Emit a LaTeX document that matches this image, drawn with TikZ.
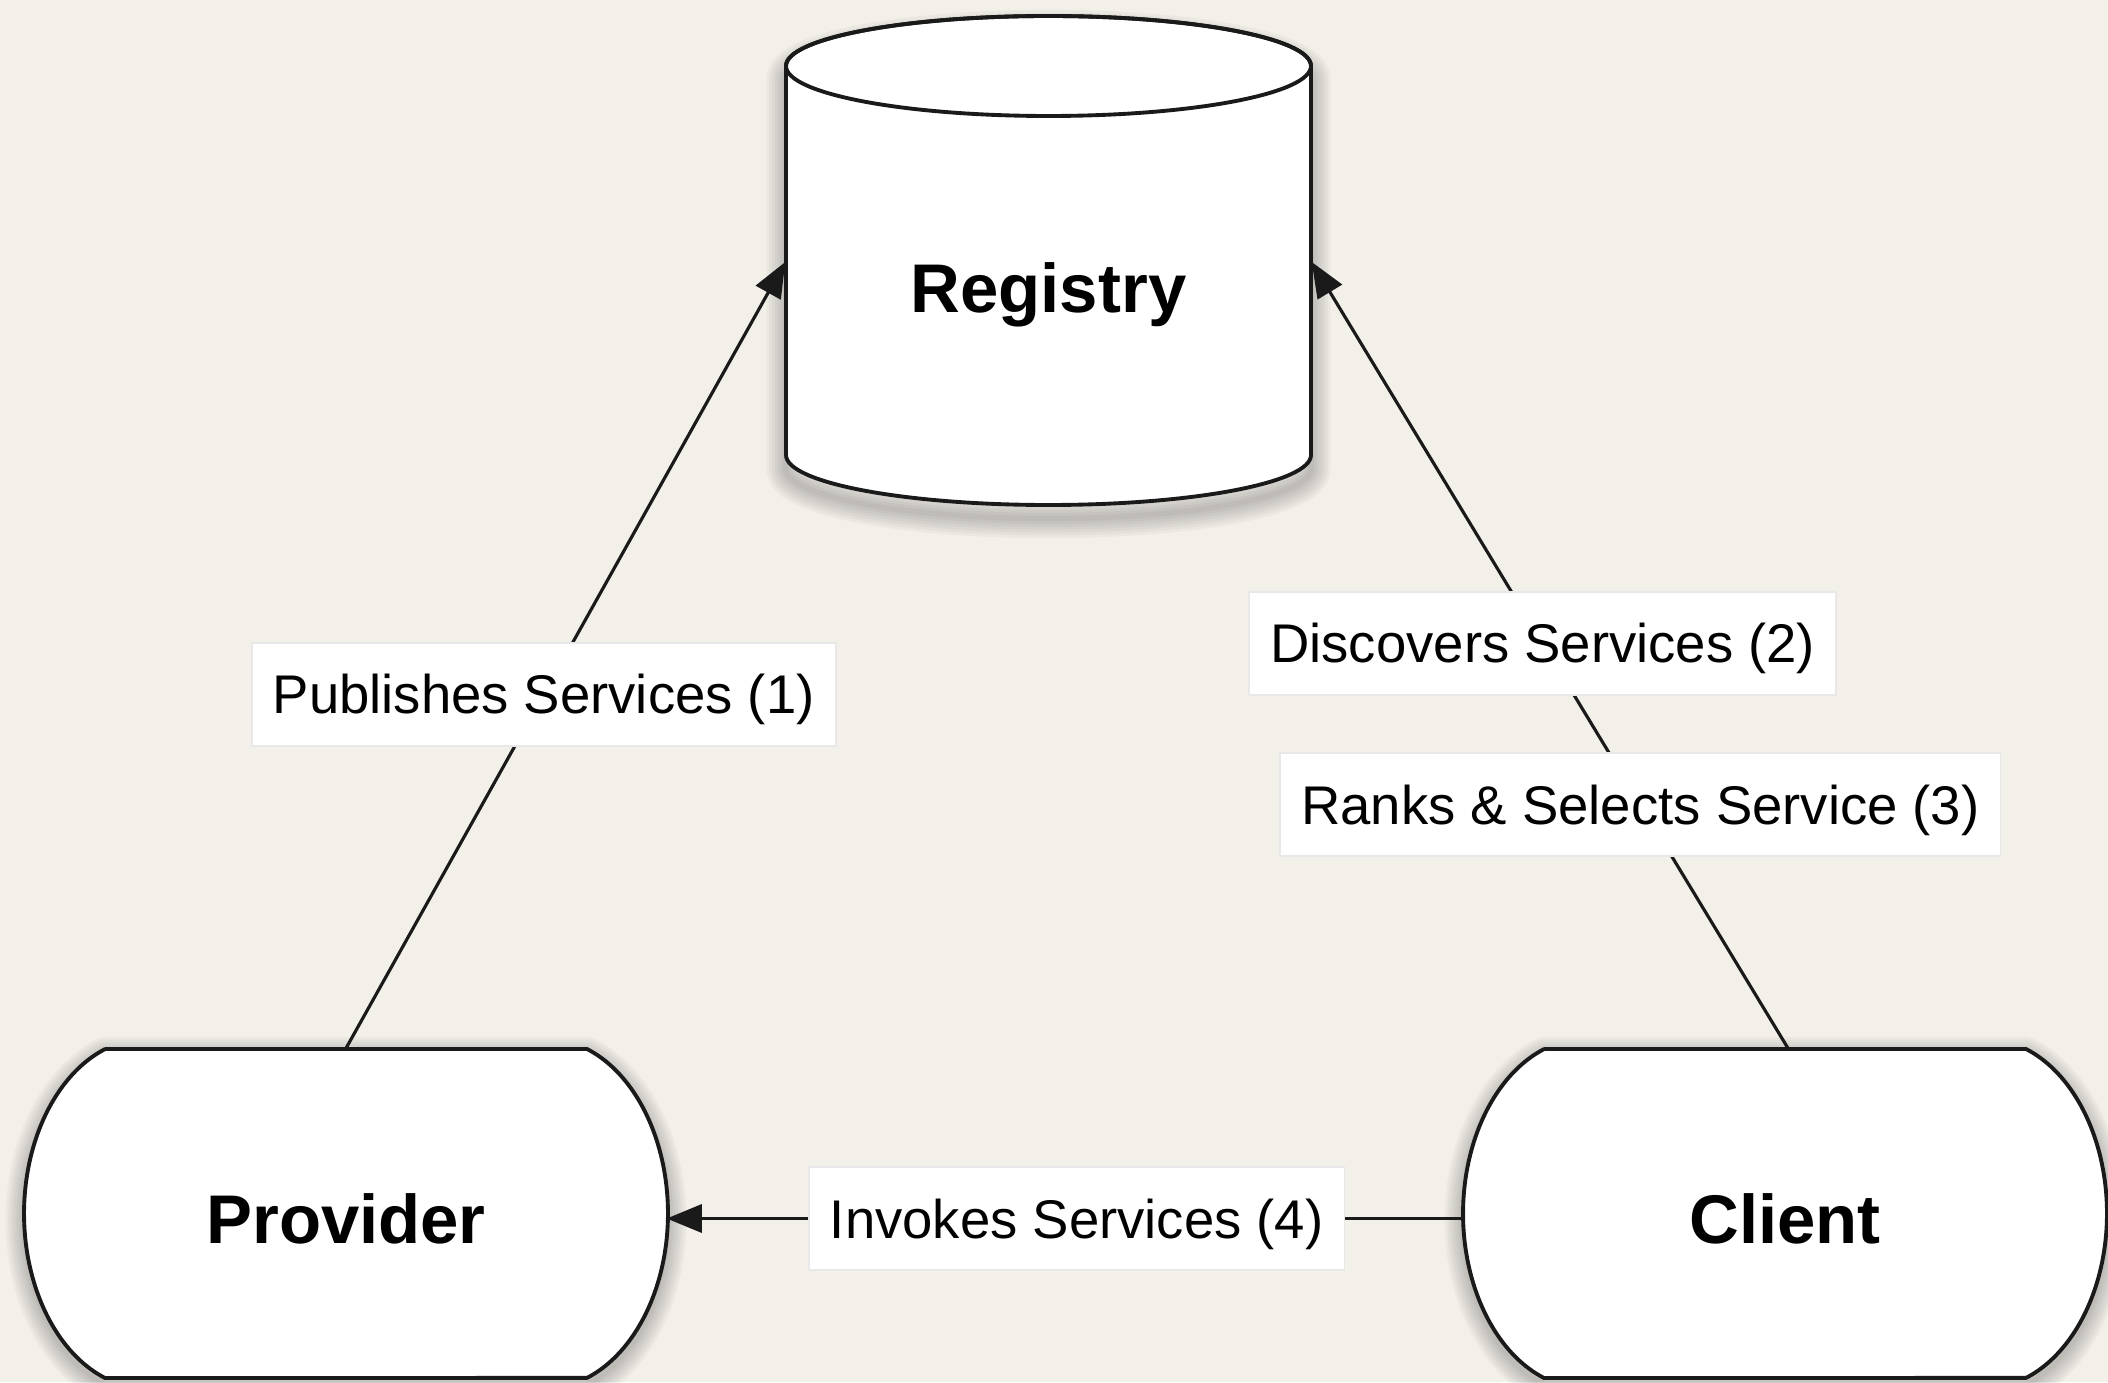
\documentclass[tikz,border=0pt]{standalone}
\usepackage{fontspec}
\setmainfont{Liberation Sans}
\usetikzlibrary{arrows.meta,calc}
\definecolor{bgcol}{HTML}{F3F0EA}
\definecolor{ink}{HTML}{1A1A1A}
\newcommand\myTermPath{(-2.41,1.645) -- (2.41,1.645) arc[start angle=70,end angle=-70,x radius=1.23,y radius=1.75] -- (-2.41,-1.645) arc[start angle=250,end angle=110,x radius=1.23,y radius=1.75] -- cycle}
\newcommand\myCylBody{(-2.625,1.945) -- (-2.625,-1.945) arc[start angle=180,end angle=360,x radius=2.625,y radius=0.5] -- (2.625,1.945) arc[start angle=0,end angle=180,x radius=2.625,y radius=0.5] -- cycle}
\tikzset{
  outline/.style={draw=ink, line width=1.1pt, fill=white, line join=round},
  shadowstroke/.style={draw=black, line width=#1, opacity=0.03, line join=round},
  hid/.style={inner sep=0pt, draw=none},
  bigtext/.style={font=\bfseries\fontsize{19.6}{22}\selectfont, text height=14pt, text depth=0pt},
  conn/.style={draw=ink, line width=0.9pt, -{Triangle[length=10pt,width=8pt]}},
  lab/.style={fill=white, draw=black!9, line width=0.5pt, font=\fontsize{15.5}{18}\selectfont,
    text height=11.1pt, text depth=0pt, inner xsep=0.21cm, minimum height=1.03cm}
}
\begin{document}
\begin{tikzpicture}
\fill[bgcol] (0,0) rectangle (21.08,13.82);
\useasboundingbox (0,0) rectangle (21.08,13.82);

% shadows
\foreach \cx in {3.46,17.85}{
  \begin{scope}[shift={(\cx,1.62)}]
    \foreach \w in {1,...,7}{\path[shadowstroke=\w*1.5pt] \myTermPath;}
  \end{scope}
}
\begin{scope}[shift={(10.485,11.08)}]
  \foreach \w in {1,...,7}{\path[shadowstroke=\w*1.6pt] \myCylBody;}
\end{scope}

% shapes
\begin{scope}[shift={(3.46,1.685)}]
  \path[outline] \myTermPath;
\end{scope}
\begin{scope}[shift={(17.85,1.685)}]
  \path[outline] \myTermPath;
\end{scope}
\begin{scope}[shift={(10.485,11.215)}]
  \path[outline] \myCylBody;
  \draw[draw=ink, line width=1.1pt] (0,1.945) ellipse[x radius=2.625, y radius=0.5];
\end{scope}

% nodes
\node[hid, bigtext, minimum width=6.44cm, minimum height=3.39cm] (prov) at (3.46,1.635) {Provider};
\node[hid, bigtext, minimum width=6.44cm, minimum height=3.39cm] (cli) at (17.85,1.635) {Client};
\node[hid, bigtext, minimum width=5.25cm, minimum height=1cm] (reg) at (10.485,10.94) {Registry};

% connectors
\draw[conn] (prov.north) -- node[lab, pos=0.45] {Publishes Services (1)} ($(reg.west)+(0,0.26)$);
\draw[conn] ([xshift=0.03cm]cli.north) -- node[lab, pos=0.31] {Ranks \& Selects Service (3)}
  node[lab, pos=0.515] {Discovers Services (2)} ($(reg.east)+(0,0.26)$);
\draw[conn] ([xshift=0.02cm]cli.west) -- node[lab, pos=0.486] {Invokes Services (4)} ([xshift=-0.02cm]prov.east);
\end{tikzpicture}
\end{document}
